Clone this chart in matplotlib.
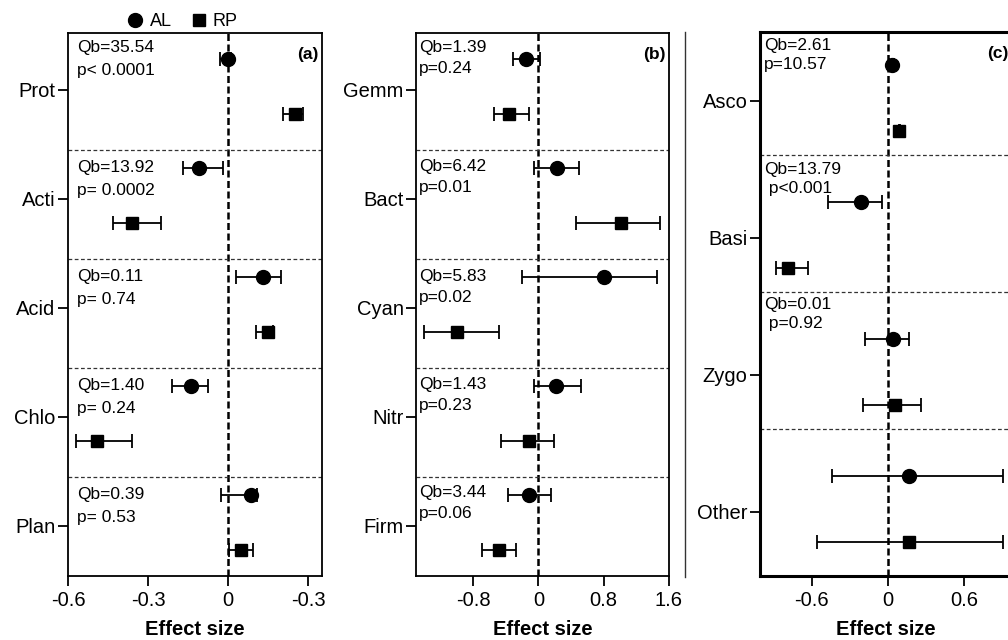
import matplotlib
matplotlib.use("Agg")
import matplotlib.pyplot as plt
import numpy as np
from matplotlib.lines import Line2D

plt.rcParams['font.family'] = ['Liberation Sans', 'DejaVu Sans']

# panel (a)
groups_a = ['Prot', 'Acti', 'Acid', 'Chlo', 'Plan']
al_a = [0.0, -0.11, 0.13, -0.14, 0.085]
al_a_lo = [-0.03, -0.17, 0.03, -0.21, -0.025]
al_a_hi = [0.01, -0.02, 0.20, -0.075, 0.11]
rp_a = [0.25, -0.36, 0.15, -0.49, 0.05]
rp_a_lo = [0.205, -0.43, 0.105, -0.57, 0.005]
rp_a_hi = [0.28, -0.25, 0.17, -0.36, 0.095]
qb_a = ['Qb=35.54', 'Qb=13.92', 'Qb=0.11', 'Qb=1.40', 'Qb=0.39']
p_a = ['p< 0.0001', 'p= 0.0002', 'p= 0.74', 'p= 0.24', 'p= 0.53']
xticks_a = [-0.6, -0.3, 0, 0.3]
xticklabels_a = ['-0.6', '-0.3', '0', '-0.3']

# panel (b)
groups_b = ['Gemm', 'Bact', 'Cyan', 'Nitr', 'Firm']
al_b = [-0.15, 0.23, 0.80, 0.22, -0.11]
al_b_lo = [-0.31, -0.05, -0.20, -0.06, -0.37]
al_b_hi = [0.02, 0.50, 1.45, 0.52, 0.15]
rp_b = [-0.36, 1.01, -1.0, -0.11, -0.48]
rp_b_lo = [-0.54, 0.46, -1.40, -0.46, -0.69]
rp_b_hi = [-0.11, 1.49, -0.48, 0.19, -0.27]
qb_b = ['Qb=1.39', 'Qb=6.42', 'Qb=5.83', 'Qb=1.43', 'Qb=3.44']
p_b = ['p=0.24', 'p=0.01', 'p=0.02', 'p=0.23', 'p=0.06']
xticks_b = [-0.8, 0, 0.8, 1.6]
xticklabels_b = ['-0.8', '0', '0.8', '1.6']

# panel (c)
groups_c = ['Asco', 'Basi', 'Zygo', 'Other']
al_c = [0.03, -0.21, 0.04, 0.17]
al_c_lo = [0.01, -0.47, -0.18, -0.44]
al_c_hi = [0.05, -0.05, 0.17, 0.91]
rp_c = [0.09, -0.79, 0.06, 0.17]
rp_c_lo = [0.085, -0.88, -0.20, -0.56]
rp_c_hi = [0.095, -0.63, 0.26, 0.91]
qb_c = ['Qb=2.61', 'Qb=13.79', 'Qb=0.01', '']
p_c = ['p=10.57', ' p<0.001', ' p=0.92', '']
xticks_c = [-0.6, 0, 0.6]
xticklabels_c = ['-0.6', '0', '0.6']

W, H = 1008, 640
fig = plt.figure(figsize=(W / 100, H / 100), dpi=100)


def draw_panel(rect, groups, al, al_lo, al_hi, rp, rp_lo, rp_hi, qb, pv,
               xlim, ylim, xticks, xticklabels, tag, offs, txt_off, p_step,
               txt_x, spw):
    ax = fig.add_axes([rect[0] / W, 1 - rect[3] / H,
                       (rect[2] - rect[0]) / W, (rect[3] - rect[1]) / H])
    n = len(groups)
    idx = np.arange(n)
    y_al = idx + offs[0]
    y_tk = idx + offs[1]
    y_rp = idx + offs[2]
    al, rp = np.array(al), np.array(rp)
    err_al = [al - np.array(al_lo), np.array(al_hi) - al]
    err_rp = [rp - np.array(rp_lo), np.array(rp_hi) - rp]
    ax.axvline(0, color='k', lw=1.8, ls=(0, (2.8, 1.4)), zorder=1)
    for k in range(1, n):
        ax.axhline(k, color='#333333', lw=0.9, ls=(0, (3, 2)), zorder=1)
    ax.errorbar(al, y_al, xerr=err_al, fmt='o', ms=10, color='k',
                capsize=5, elinewidth=1.3, capthick=1.3, zorder=3)
    ax.errorbar(rp, y_rp, xerr=err_rp, fmt='s', ms=8.5, color='k',
                capsize=5, elinewidth=1.3, capthick=1.3, zorder=3)
    for k in range(n):
        if qb[k]:
            ax.text(txt_x, idx[k] + txt_off[k], qb[k], fontsize=12.5,
                    va='center', ha='left')
            ax.text(txt_x, idx[k] + txt_off[k] + p_step, pv[k], fontsize=12.5,
                    va='center', ha='left')
    ax.set_xlim(*xlim)
    ax.set_ylim(*ylim)
    ax.set_yticks(y_tk)
    ax.set_yticklabels(groups, fontsize=14.5)
    ax.set_xticks(xticks)
    ax.set_xticklabels(xticklabels, fontsize=14.5)
    ax.tick_params(axis='both', direction='out', length=7, width=1.3, pad=2)
    ax.tick_params(axis='x', pad=4)
    for s in ax.spines.values():
        s.set_linewidth(spw)
    ax.set_xlabel('Effect size', fontsize=14.5, fontweight='bold', labelpad=7)
    ax.text(0.985, 0.975, tag, transform=ax.transAxes, ha='right', va='top',
            fontsize=12.5, fontweight='bold')
    return ax


draw_panel((68, 33, 322, 576), groups_a, al_a, al_a_lo, al_a_hi, rp_a, rp_a_lo,
           rp_a_hi, qb_a, p_a, (-0.6, 0.3525), (4.91, -0.07), xticks_a,
           xticklabels_a, '(a)', (0.17, 0.45, 0.67),
           [0.06, 0.16, 0.16, 0.16, 0.16], 0.21, -0.567, 1.3)
draw_panel((416, 33, 669, 576), groups_b, al_b, al_b_lo, al_b_hi, rp_b, rp_b_lo,
           rp_b_hi, qb_b, p_b, (-1.5, 1.6), (4.91, -0.07), xticks_b,
           xticklabels_b, '(b)', (0.17, 0.45, 0.67),
           [0.06, 0.15, 0.16, 0.15, 0.14], 0.2, -1.465, 1.3)
draw_panel((760, 32, 1012, 576), groups_c, al_c, al_c_lo, al_c_hi, rp_c, rp_c_lo,
           rp_c_hi, qb_c, p_c, (-1.01, 0.98), (4.07, 0.1), xticks_c,
           xticklabels_c, '(c)', (0.34, 0.6, 0.82),
           [0.2, 0.1, 0.09, 0.0], 0.14, -0.98, 2.2)

# separator line between (b) and (c)
fig.add_artist(Line2D([685 / W, 685 / W], [1 - 32 / H, 1 - 577 / H],
                      transform=fig.transFigure, color='#333333', lw=1.0))

# legend
handles = [Line2D([], [], marker='o', ls='none', color='k', ms=10),
           Line2D([], [], marker='s', ls='none', color='k', ms=8.5)]
fig.legend(handles, ['AL', 'RP'], loc='center', bbox_to_anchor=(182 / W, 1 - 22 / H),
           ncol=2, frameon=False, fontsize=13, handletextpad=0.3,
           columnspacing=1.0, handlelength=1.0, borderpad=0)

fig.savefig('out.png', dpi=100)
